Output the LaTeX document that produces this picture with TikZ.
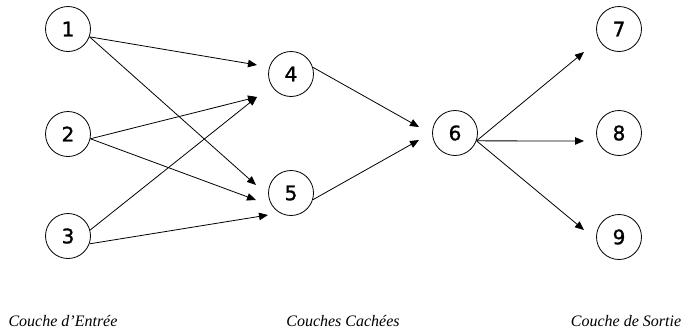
\documentclass[tikz,border=0pt]{standalone}
\usepackage{fontspec}
\setmainfont{Liberation Serif}
\newfontfamily\digitfont[FakeBold=1.3]{DejaVu Sans}
\usetikzlibrary{arrows.meta}
\begin{document}
\begin{tikzpicture}[x=1pt,y=-1pt,
  neuron/.style={circle,draw,line width=0.8pt,minimum size=45pt,inner sep=0pt,
    font=\digitfont\fontsize{20}{20}\selectfont},
  link/.style={line width=0.8pt,-{Triangle[length=9pt,width=7.5pt]}},
  layername/.style={font=\itshape\fontsize{16}{16}\selectfont}]
\useasboundingbox (0,0) rectangle (684,335);
% neurons
\node[neuron] (n1) at (68,29) {1};
\node[neuron] (n2) at (68,134) {2};
\node[neuron] (n3) at (68,236) {3};
\node[neuron] (n4) at (291,74) {4};
\node[neuron] (n5) at (291,193) {5};
\node[neuron] (n6) at (455,133) {6};
\node[neuron] (n7) at (619,29) {7};
\node[neuron] (n8) at (619,133) {8};
\node[neuron] (n9) at (619,237) {9};
% arrow tip positions
\coordinate (t4a) at (257,65);
\coordinate (t4b) at (257,97);
\coordinate (t5a) at (256,185);
\coordinate (t5b) at (256,200);
\coordinate (t5c) at (268,215);
\coordinate (t6a) at (419,127);
\coordinate (t6b) at (419,140);
\coordinate (t7) at (584,52);
\coordinate (t8) at (584,141);
\coordinate (t9) at (584,230);
% connections
\draw[link] (n1.-20) -- (t4a);
\draw[link] (n1.-20) -- (t5a);
\draw[link] (n2.-12) -- (t4b);
\draw[link] (n2.-12) -- (t5b);
\draw[link] (n3.15) -- (t4b);
\draw[link] (n3.-20) -- (t5c);
\draw[link] (n4.17) -- (t6a);
\draw[link] (n5.-17) -- (t6b);
\draw[link] (n6.-20) -- (t7);
\draw[link] (n6.-20) -- (t8);
\draw[link] (n6.-20) -- (t9);
% layer names
\node[layername] (l1) at (63,321) {Couche d'Entrée};
\node[layername] (l2) at (343,321) {Couches Cachées};
\node[layername] (l3) at (626,321) {Couche de Sortie};
\end{tikzpicture}
\end{document}
